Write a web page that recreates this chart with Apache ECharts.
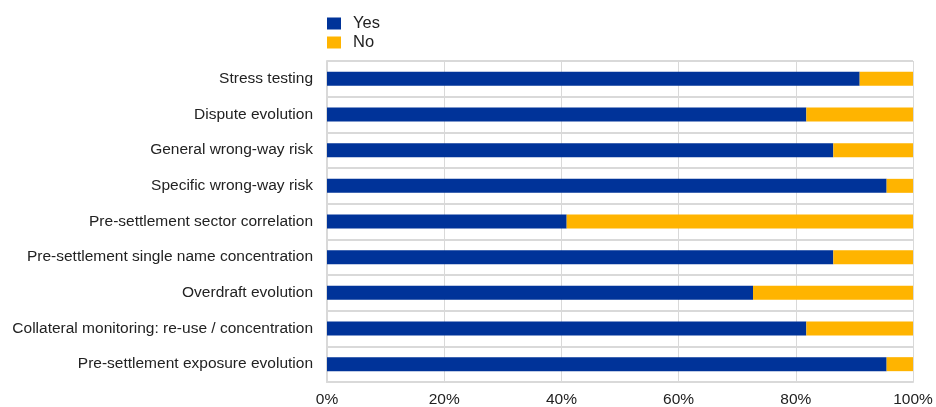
<!DOCTYPE html>
<html>
<head>
<meta charset="utf-8">
<script src="https://cdn.jsdelivr.net/npm/echarts@6/dist/echarts.min.js"></script>
<style>
  html, body { margin: 0; padding: 0; background: #fff; }
  #chart { width: 936px; height: 407px; }
</style>
</head>
<body>
<div id="chart"></div>
<script>
// Risk-management practices, share of respondents (%)
const categories = [
  'Stress testing',
  'Dispute evolution',
  'General wrong-way risk',
  'Specific wrong-way risk',
  'Pre-settlement sector correlation',
  'Pre-settlement single name concentration',
  'Overdraft evolution',
  'Collateral monitoring: re-use / concentration',
  'Pre-settlement exposure evolution'
];
const yesValues = [90.9, 81.8, 86.4, 95.5, 40.9, 86.4, 72.7, 81.8, 95.5];
const noValues  = [9.1, 18.2, 13.6, 4.5, 59.1, 13.6, 27.3, 18.2, 4.5];
const xTicks = [0, 20, 40, 60, 80, 100];

const font = '"Liberation Sans", Arial, sans-serif';
const chart = echarts.init(document.getElementById('chart'));
chart.setOption({
  animation: false,
  textStyle: { fontFamily: font },
  legend: {
    orient: 'vertical',
    left: 322,
    top: 10,
    itemWidth: 14,
    itemHeight: 12,
    itemGap: 2,
    icon: 'rect',
    textStyle: {
      fontFamily: font, fontSize: 16.5, color: '#222',
      padding: [0, 0, 0, 7]
    },
    data: ['Yes', 'No']
  },
  grid: { left: 327, right: 23, top: 61, bottom: 25, outerBoundsMode: 'none' },
  xAxis: {
    type: 'value',
    min: xTicks[0],
    max: xTicks[xTicks.length - 1],
    interval: 20,
    axisLine: { show: true, lineStyle: { color: '#d9d9d9', width: 2 } },
    axisTick: { show: false },
    splitLine: { lineStyle: { color: '#d9d9d9', width: 1 } },
    axisLabel: {
      fontFamily: font, fontSize: 15.5, color: '#222', margin: 10,
      formatter: v => v + '%'
    }
  },
  yAxis: {
    type: 'category',
    inverse: true,
    data: categories,
    axisLine: { show: true, lineStyle: { color: '#d9d9d9', width: 2 } },
    axisTick: { show: false },
    splitLine: { show: true, lineStyle: { color: '#d9d9d9', width: 2 } },
    axisLabel: { fontFamily: font, fontSize: 15.5, color: '#222', margin: 14 }
  },
  series: [
    {
      name: 'Yes', type: 'bar', stack: 'total', data: yesValues,
      barWidth: 14, itemStyle: { color: '#003399' }
    },
    {
      name: 'No', type: 'bar', stack: 'total', data: noValues,
      barWidth: 14, itemStyle: { color: '#FFB400' }
    }
  ]
});
</script>
</body>
</html>
